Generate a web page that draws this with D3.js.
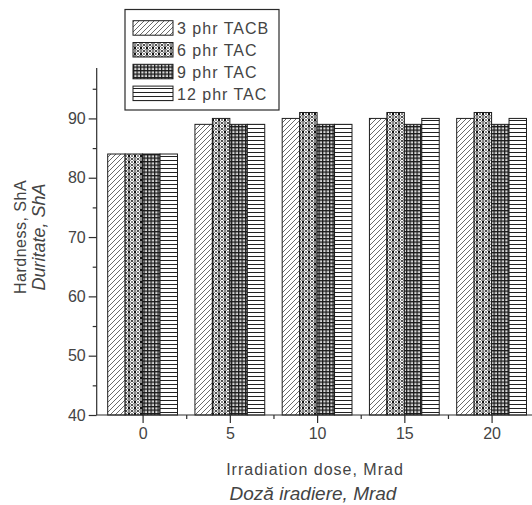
<!DOCTYPE html>
<html>
<head>
<meta charset="utf-8">
<script src="https://cdn.jsdelivr.net/npm/d3@7/dist/d3.min.js"></script>
<style>
  html, body { margin: 0; padding: 0; background: #fff; }
  svg { display: block; }
  text { font-family: "Liberation Sans", Arial, sans-serif; fill: #444; }
</style>
</head>
<body>
<svg id="chart" width="532" height="505"></svg>
<script>
// Irradiation dose (Mrad) for each bar group
const doses = [0, 5, 10, 15, 20];
// Series (TAC content) and their hardness values, Shore A
const seriesNames = ["3 phr TACB", "6 phr TAC", "9 phr TAC", "12 phr TAC"];
const tacb3 = [84, 89, 90, 90, 90];
const tac6  = [84, 90, 91, 91, 91];
const tac9  = [84, 89, 89, 89, 89];
const tac12 = [84, 89, 89, 90, 90];
const seriesValues = [tacb3, tac6, tac9, tac12];
// Axis ticks
const yTicks = [40, 50, 60, 70, 80, 90];
const yMinorTicks = [45, 55, 65, 75, 85, 95];
const xTicks = [0, 5, 10, 15, 20];
const xMinorTicks = [2.5, 7.5, 12.5, 17.5, 22.5];

const svg = d3.select("#chart");
const defs = svg.append("defs");

// Fill patterns, one per series
const patterns = ["pat-diag", "pat-dots", "pat-grid", "pat-horiz"];

const pDiag = defs.append("pattern").attr("id", "pat-diag")
  .attr("patternUnits", "userSpaceOnUse").attr("width", 5).attr("height", 5);
pDiag.append("rect").attr("width", 5).attr("height", 5).attr("fill", "#fff");
pDiag.append("path").attr("d", "M-1,6 L6,-1 M-1,1 L1,-1 M4,6 L6,4")
  .attr("stroke", "#6a6a6a").attr("stroke-width", 1);

const pDots = defs.append("pattern").attr("id", "pat-dots")
  .attr("patternUnits", "userSpaceOnUse").attr("width", 6).attr("height", 6);
pDots.append("rect").attr("width", 6).attr("height", 6).attr("fill", "#fff");
pDots.append("path").attr("d", "M0,0 L6,6 M6,0 L0,6")
  .attr("stroke", "#8a8a8a").attr("stroke-width", 1);
pDots.append("rect").attr("x", 2).attr("y", 0).attr("width", 2).attr("height", 1.5).attr("fill", "#111");
pDots.append("rect").attr("x", 2).attr("y", 4.5).attr("width", 2).attr("height", 1.5).attr("fill", "#111");
pDots.append("rect").attr("x", 0).attr("y", 2.2).attr("width", 1.2).attr("height", 1.6).attr("fill", "#222");
pDots.append("rect").attr("x", 4.8).attr("y", 2.2).attr("width", 1.2).attr("height", 1.6).attr("fill", "#222");

const pGrid = defs.append("pattern").attr("id", "pat-grid")
  .attr("patternUnits", "userSpaceOnUse").attr("width", 3.5).attr("height", 3.5);
pGrid.append("rect").attr("width", 3.5).attr("height", 3.5).attr("fill", "#d8d8d8");
pGrid.append("path").attr("d", "M0.6,0 V3.5 M0,0.6 H3.5")
  .attr("stroke", "#1a1a1a").attr("stroke-width", 1.3);

const pHoriz = defs.append("pattern").attr("id", "pat-horiz")
  .attr("patternUnits", "userSpaceOnUse").attr("width", 4).attr("height", 4);
pHoriz.append("rect").attr("width", 4).attr("height", 4).attr("fill", "#fff");
pHoriz.append("path").attr("d", "M0,0.5 H4")
  .attr("stroke", "#222").attr("stroke-width", 1);

// Scales
const x = d3.scaleLinear().domain([-2.63, 22.7]).range([96.7, 538.7]);
const y = d3.scaleLinear().domain([40, 98.5]).range([415, 68]);
const unit = x(1) - x(0);

// Bars
const bars = svg.append("g");
seriesValues.forEach((vals, s) => {
  bars.selectAll(null)
    .data(vals.map((v, i) => ({ dose: doses[i], value: v })))
    .join("rect")
    .attr("x", d => x(d.dose + s - 2))
    .attr("y", d => y(d.value))
    .attr("width", unit)
    .attr("height", d => y(40) - y(d.value))
    .attr("fill", `url(#${patterns[s]})`)
    .attr("stroke", "#1e1e1e")
    .attr("stroke-width", 1);
});

// Axes
const axisColor = "#2e2e2e";
const yAxis = svg.append("g").attr("transform", `translate(${x.range()[0]},0)`)
  .call(d3.axisLeft(y).tickValues(yTicks).tickSize(8).tickPadding(3).tickFormat(d3.format("d")));
svg.append("g").attr("transform", `translate(${x.range()[0]},0)`)
  .call(d3.axisLeft(y).tickValues(yMinorTicks).tickSize(4).tickFormat(""))
  .call(g => g.select(".domain").remove());
const xAxis = svg.append("g").attr("transform", `translate(0,${y(40)})`)
  .call(d3.axisBottom(x).tickValues(xTicks).tickSize(8).tickPadding(5).tickFormat(d3.format("d")));
svg.append("g").attr("transform", `translate(0,${y(40)})`)
  .call(d3.axisBottom(x).tickValues(xMinorTicks).tickSize(4).tickFormat(""))
  .call(g => g.select(".domain").remove());

svg.selectAll(".domain").attr("stroke", axisColor).attr("stroke-width", 1.2);
yAxis.select(".domain").attr("d", `M0,${y.range()[1]} V${y.range()[0]}`);
xAxis.select(".domain").attr("d", `M${x.range()[0]},0 H${x.range()[1]}`);
svg.selectAll(".tick line").attr("stroke", axisColor).attr("stroke-width", 1.2);
svg.selectAll(".tick text").attr("font-size", 16).attr("fill", "#4a4a4a")
  .style("font-family", "'Liberation Sans', Arial, sans-serif");

// Axis titles
svg.append("text").attr("x", 315).attr("y", 475).attr("text-anchor", "middle")
  .attr("font-size", 16).attr("letter-spacing", 1).text("Irradiation dose, Mrad");
svg.append("text").attr("x", 313).attr("y", 500).attr("text-anchor", "middle")
  .attr("font-size", 19).attr("font-style", "italic").text("Doză iradiere, Mrad");
svg.append("text").attr("transform", "translate(26,237) rotate(-90)").attr("text-anchor", "middle")
  .attr("font-size", 16).attr("letter-spacing", 0.5).text("Hardness, ShA");
svg.append("text").attr("transform", "translate(45,237) rotate(-90)").attr("text-anchor", "middle")
  .attr("font-size", 18).attr("font-style", "italic").text("Duritate, ShA");

// Legend
const legend = svg.append("g");
legend.append("rect").attr("x", 125).attr("y", 9.5).attr("width", 154).attr("height", 100.5)
  .attr("fill", "#fff").attr("stroke", "#2a2a2a").attr("stroke-width", 1.2);
seriesNames.forEach((name, s) => {
  const ry = 20.7 + s * 21.8;
  legend.append("rect").attr("x", 133).attr("y", ry).attr("width", 40).attr("height", 14.5)
    .attr("fill", `url(#${patterns[s]})`).attr("stroke", "#1e1e1e").attr("stroke-width", 1);
  legend.append("text").attr("x", 177).attr("y", ry + 13.5)
    .attr("font-size", 16).attr("letter-spacing", 1).text(name);
});
</script>
</body>
</html>
